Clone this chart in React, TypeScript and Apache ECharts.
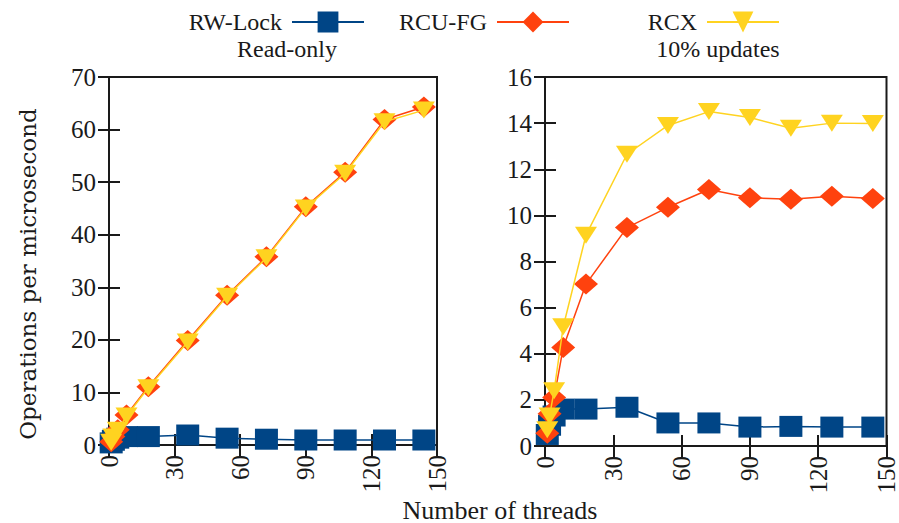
import React, { useEffect, useRef } from "react";
import * as echarts from "echarts";

const threads = [1, 2, 4, 8, 18, 36, 54, 72, 90, 108, 126, 144];
const readRwLock = [0.4, 0.9, 1.3, 1.6, 1.6, 1.9, 1.3, 1.1, 0.95, 0.95, 0.95, 0.95];
const readRcuFg = [0.6, 1.6, 2.9, 5.7, 11.1, 19.9, 28.5, 35.8, 45.3, 51.9, 61.9, 64.3];
const readRcx = [0.5, 1.5, 2.8, 5.5, 10.9, 19.6, 28.3, 35.6, 45.1, 51.7, 61.5, 63.7];
const updRwLock = [0.5, 0.9, 1.3, 1.6, 1.6, 1.68, 1.0, 1.0, 0.82, 0.85, 0.82, 0.82];
const updRcuFg = [0.55, 1.4, 2.1, 4.27, 7.02, 9.47, 10.35, 11.12, 10.76, 10.7, 10.83, 10.73];
const updRcx = [0.7, 1.3, 2.4, 5.17, 9.14, 12.65, 13.9, 14.5, 14.24, 13.78, 14.0, 13.98];

const seriesNames = ["RW-Lock", "RCU-FG", "RCX"];
const panelTitles = ["Read-only", "10% updates"];
const xTitle = "Number of threads";
const yTitle = "Operations per microsecond";

const COLORS = ["#004586", "#ff420e", "#ffd320"];
const SERIF = "Liberation Serif";

function pairs(xs: number[], ys: number[]) {
  return xs.map((x, i) => [x, ys[i]]);
}

export default function App() {
  const ref = useRef<HTMLDivElement>(null);
  useEffect(() => {
    if (!ref.current) return;
    const chart = echarts.init(ref.current, null, { renderer: "svg" });
    const tickStyle = { show: true, inside: true, length: 11, lineStyle: { color: "#1a1a1a", width: 2 } };
    const labelStyle = { fontFamily: SERIF, fontSize: 25, color: "#1a1a1a" };
    const makeX = (gridIndex: number, pos: "bottom" | "top") => ({
      type: "value",
      gridIndex,
      position: pos,
      min: 0,
      max: 150,
      interval: 30,
      axisLine: { show: false },
      axisTick: tickStyle,
      splitLine: { show: false },
      axisLabel: pos === "bottom" ? { ...labelStyle, rotate: 90, margin: 10 } : { show: false },
    });
    const makeY = (gridIndex: number, pos: "left" | "right", max: number, interval: number) => ({
      type: "value",
      gridIndex,
      position: pos,
      min: 0,
      max,
      interval,
      axisLine: { show: false },
      axisTick: tickStyle,
      splitLine: { show: false },
      axisLabel: pos === "left" ? { ...labelStyle, margin: 13 } : { show: false },
    });
    const symbols = [
      { symbol: "rect", symbolSize: [23, 21], symbolRotate: 0 },
      { symbol: "diamond", symbolSize: [24, 21], symbolRotate: 0 },
      { symbol: "triangle", symbolSize: [22, 17], symbolRotate: 180 },
    ];
    const data = [
      [readRwLock, readRcuFg, readRcx],
      [updRwLock, updRcuFg, updRcx],
    ];
    const series: any[] = [];
    [0, 1].forEach((g) => {
      seriesNames.forEach((name, i) => {
        series.push({
          type: "line",
          name,
          xAxisIndex: g * 2,
          yAxisIndex: g * 2,
          data: pairs(threads, data[g][i]),
          ...symbols[i],
          showAllSymbol: true,
          color: COLORS[i],
          lineStyle: { color: COLORS[i], width: 1.5 },
          itemStyle: { color: COLORS[i] },
          clip: false,
          z: 2 + i,
        });
      });
    });
    const legendRights = [529, 324, 114];
    const legend = seriesNames.map((name, i) => ({
      data: [name],
      top: 5,
      right: legendRights[i],
      align: "right",
      itemWidth: 72,
      itemHeight: 26,
      textStyle: { fontFamily: SERIF, fontSize: 24, color: "#1a1a1a", padding: [0, 5, 0, 0] },
      selectedMode: false,
    }));
    chart.setOption({
      animation: false,
      backgroundColor: "#ffffff",
      legend,
      grid: [
        { left: 109, top: 77, width: 328, height: 368, show: true, borderColor: "#1a1a1a", borderWidth: 2, backgroundColor: "transparent" },
        { left: 545, top: 77, width: 342, height: 369, show: true, borderColor: "#1a1a1a", borderWidth: 2, backgroundColor: "transparent" },
      ],
      xAxis: [makeX(0, "bottom"), makeX(0, "top"), makeX(1, "bottom"), makeX(1, "top")],
      yAxis: [
        makeY(0, "left", 70, 10),
        makeY(0, "right", 70, 10),
        makeY(1, "left", 16, 2),
        makeY(1, "right", 16, 2),
      ],
      graphic: [
        {
          type: "text",
          x: 287,
          y: 49,
          style: { text: panelTitles[0], font: `24px "${SERIF}"`, fill: "#1a1a1a", textAlign: "center", textVerticalAlign: "middle" },
        },
        {
          type: "text",
          x: 718,
          y: 49,
          style: { text: panelTitles[1], font: `24px "${SERIF}"`, fill: "#1a1a1a", textAlign: "center", textVerticalAlign: "middle" },
        },
        {
          type: "text",
          x: 500,
          y: 510,
          style: { text: xTitle, font: `26px "${SERIF}"`, fill: "#1a1a1a", textAlign: "center", textVerticalAlign: "middle" },
        },
        {
          type: "text",
          x: 28,
          y: 274,
          rotation: Math.PI / 2,
          style: { text: yTitle, font: `23px "DejaVu Serif"`, fill: "#1a1a1a", textAlign: "center", textVerticalAlign: "middle" },
        },
      ],
      series,
    });
    return () => chart.dispose();
  }, []);
  return (
    <div
      ref={ref}
      style={{ position: "fixed", left: 0, top: 0, width: 899, height: 523, background: "#fff" }}
    />
  );
}
